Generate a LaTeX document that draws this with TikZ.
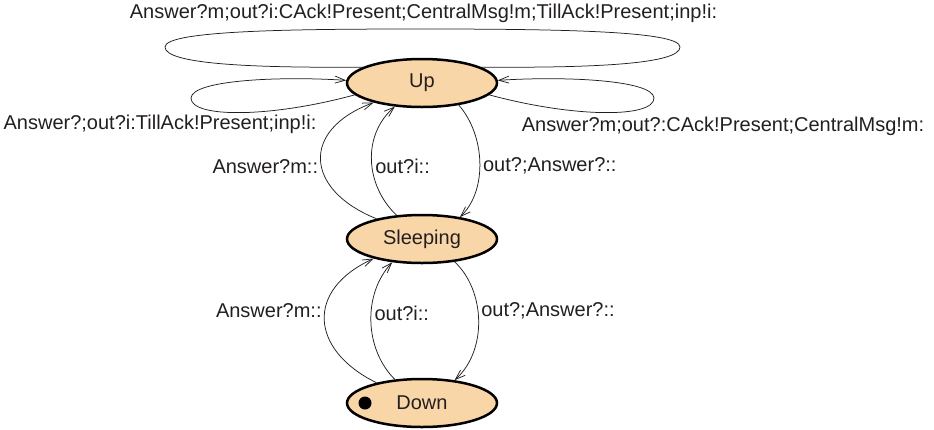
\documentclass[tikz,border=0pt]{standalone}
\usepackage{fontspec}
\setmainfont{Liberation Sans}
\usepackage{tikz}
\usetikzlibrary{shapes.geometric,arrows.meta,positioning}
\definecolor{statefill}{RGB}{249,214,167}
\definecolor{inkgray}{RGB}{35,31,32}

\begin{document}
\begin{tikzpicture}[
  x=1pt, y=-1pt,
  state/.style={ellipse, draw=black, line width=2.5pt, fill=statefill,
                minimum width=150pt, minimum height=48pt, inner sep=0pt,
                font=\fontsize{20}{23}\selectfont, text=inkgray},
  trans/.style={-{Straight Barb[length=10pt,width=7pt]}, line width=0.75pt, color=inkgray},
  lbl/.style={font=\fontsize{20}{23}\selectfont, text=inkgray, inner sep=3pt},
  node distance=105.5pt
]
  \useasboundingbox (0,0) rectangle (934,429);

  \node[state] (up) at (422,83) {Up};
  \node[state, below=of up] (sleeping) {Sleeping};
  \node[state, below=113.5pt of sleeping] (down) {Down};
  \node[circle, fill=black, minimum size=13pt, inner sep=0pt] (init) at (365,403) {};

  % self loops on Up
  \draw[line width=0.75pt, color=inkgray] (up.165) .. controls (250,68) and (165,64) .. (165,47)
    .. controls (165,30) and (300,29) .. (423,29)
    .. controls (560,29) and (680,31) .. (680,47)
    .. controls (680,64) and (595,68) .. (up.15);
  \node[lbl] (lbltop) at (423.5,13) {Answer?m;out?i:CAck!Present;CentralMsg!m;TillAck!Present;inp!i:};

  \draw[trans] (up.190) .. controls (270,118) and (191,118) .. (191,98)
    .. controls (192,80) and (280,76) .. (up.178);
  \node[lbl] (lblleft) at (160,124) {Answer?;out?i:TillAck!Present;inp!i:};

  \draw[trans] (up.-10) .. controls (575,118) and (654,118) .. (654,98)
    .. controls (653,80) and (565,76) .. (up.2);
  \node[lbl] (lblright) at (723,126) {Answer?m;out?:CAck!Present;CentralMsg!m:};

  % Up <-> Sleeping
  \draw[trans] (sleeping.156) .. controls (305,190) and (300,130) .. node[lbl, pos=0.45, left] {Answer?m::} (up.202);
  \draw[trans] (sleeping.137) .. controls (365,185) and (362,135) .. node[lbl, pos=0.45, right] {out?i::} (up.221);
  \draw[trans] (up.329) .. controls (485,135) and (488,190) .. node[lbl, pos=0.53, right] {out?;Answer?::} (sleeping.30);

  % Sleeping <-> Down
  \draw[trans] (down.156) .. controls (310,350) and (305,290) .. node[lbl, pos=0.57, left] {Answer?m::} (sleeping.202);
  \draw[trans] (down.139) .. controls (365,350) and (362,295) .. node[lbl, pos=0.57, right] {out?i::} (sleeping.218);
  \draw[trans] (sleeping.325) .. controls (485,290) and (488,350) .. node[lbl, pos=0.43, right] {out?;Answer?::} (down.35);
\end{tikzpicture}
\end{document}
